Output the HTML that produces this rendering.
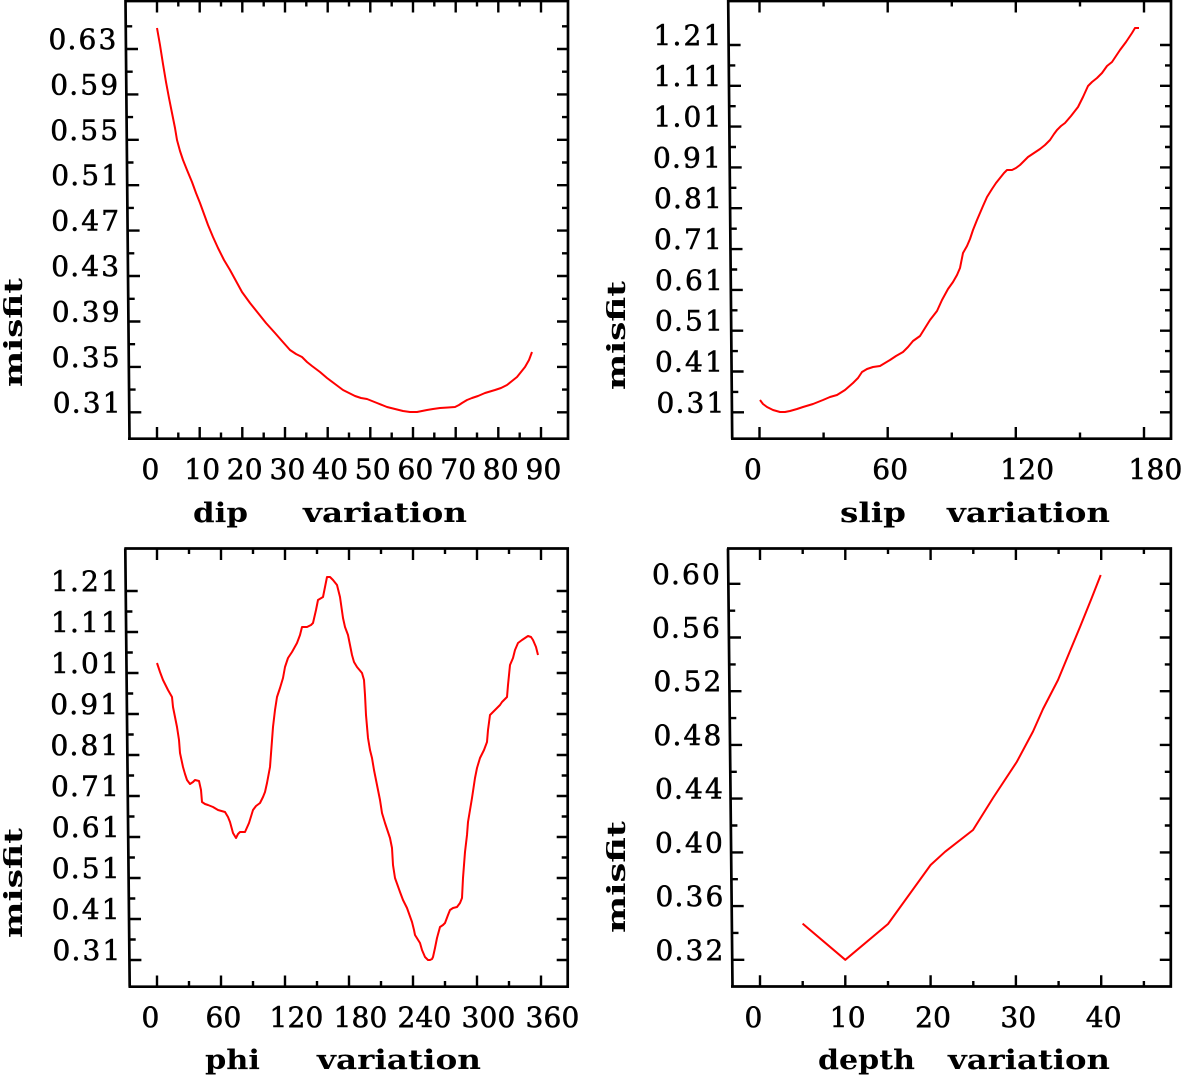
<!DOCTYPE html>
<html>
<head>
<meta charset="utf-8">
<style>
html,body{margin:0;padding:0;background:#fff;}
svg{display:block;}
.tk{font-family:"DejaVu Serif","Liberation Serif",serif;font-size:28px;fill:#000;stroke:#000;stroke-width:0.55px;}
.tt{font-family:"DejaVu Serif","Liberation Serif",serif;font-size:27px;font-weight:bold;fill:#000;}
.ms{font-family:"DejaVu Serif","Liberation Serif",serif;font-size:25px;font-weight:bold;fill:#000;}
</style>
</head>
<body>
<svg width="1183" height="1076" viewBox="0 0 1183 1076" xmlns="http://www.w3.org/2000/svg">
<rect width="1183" height="1076" fill="#fff"/>

<!-- ============ TOP LEFT: dip ============ -->
<path d="M125.5 0 L129.5 438.7 M128 438.7 H568 V1 H124.5" stroke="#000" stroke-width="2.7" fill="none"/>
<path stroke="#000" stroke-width="2.4" fill="none" d="
M157 438V427 M199.7 438V427 M242.3 438V427 M285 438V427 M327.7 438V427 M370.3 438V427 M413 438V427 M455.7 438V427 M498.3 438V427 M541 438V427
M178.3 438V432.5 M221 438V432.5 M263.7 438V432.5 M306.3 438V432.5 M349 438V432.5 M391.7 438V432.5 M434.3 438V432.5 M477 438V432.5 M519.7 438V432.5
M157 1V12.5 M199.7 1V12.5 M242.3 1V12.5 M285 1V12.5 M327.7 1V12.5 M370.3 1V12.5 M413 1V12.5 M455.7 1V12.5 M498.3 1V12.5 M541 1V12.5
M178.3 1V6.5 M221 1V6.5 M263.7 1V6.5 M306.3 1V6.5 M349 1V6.5 M391.7 1V6.5 M434.3 1V6.5 M477 1V6.5 M519.7 1V6.5
M126 49h12 M126.4 94.4h12 M126.8 139.8h12 M127.2 185.2h12 M127.6 230.6h12 M128 276h12 M128.4 321.5h12 M128.9 366.9h12 M129.3 412.3h12
M125.7 26.3h6.5 M126.2 71.7h6.5 M126.6 117.1h6.5 M127 162.5h6.5 M127.4 207.9h6.5 M127.8 253.3h6.5 M128.2 298.8h6.5 M128.6 344.2h6.5 M129.1 389.6h6.5
M568 49h-11 M568 94.4h-11 M568 139.8h-11 M568 185.2h-11 M568 230.6h-11 M568 276h-11 M568 321.5h-11 M568 366.9h-11 M568 412.3h-11
M568 26.3h-6 M568 71.7h-6 M568 117.1h-6 M568 162.5h-6 M568 207.9h-6 M568 253.3h-6 M568 298.8h-6 M568 344.2h-6 M568 389.6h-6"/>
<g class="tk">
<text x="48.5 67.5 78.5 98.5" y="49">0.63</text>
<text x="50.2 69.2 80.2 100.2" y="94.4">0.59</text>
<text x="50.2 69.2 80.2 100.2" y="139.8">0.55</text>
<text x="51.2 70.2 81.2 101.2" y="185.2">0.51</text>
<text x="51.2 70.2 81.2 101.2" y="230.6">0.47</text>
<text x="51.2 70.2 81.2 101.2" y="276">0.43</text>
<text x="51.8 70.8 81.8 101.8" y="321.5">0.39</text>
<text x="51.8 70.8 81.8 101.8" y="366.9">0.35</text>
<text x="52.8 71.8 82.8 102.8" y="412.3">0.31</text>
<text x="141.5" y="479">0</text>
<text x="184.2 202.2" y="479">10</text>
<text x="226.8 244.8" y="479">20</text>
<text x="269.5 287.5" y="479">30</text>
<text x="312.2 330.2" y="479">40</text>
<text x="354.8 372.8" y="479">50</text>
<text x="397.5 415.5" y="479">60</text>
<text x="440.2 458.2" y="479">70</text>
<text x="482.8 500.8" y="479">80</text>
<text x="525.5 543.5" y="479">90</text>
</g>
<text class="tt" x="193" y="522" textLength="55" lengthAdjust="spacingAndGlyphs">dip</text>
<text class="tt" x="303" y="522" textLength="164" lengthAdjust="spacingAndGlyphs">variation</text>
<text class="ms" transform="translate(22,387) rotate(-90)" textLength="109" lengthAdjust="spacingAndGlyphs">misfit</text>
<polyline fill="none" stroke="#ff0000" stroke-width="2" stroke-linejoin="round" points="157,28 160,45 163,64 166,82 169,98 172,113 175,128 177,140 180,151 183,160 187,170 192,182 196,193 200,203 204,214 208,225 213,237 218,248 224,260 230,270 236,281 242,292 250,303 258,313 266,323 275,333 282,341 290,350 296,354 302,357 307,362 312,366 320,372 327,378 335,384 343,390 349,393 355,396 361,398 367,399 377,403 387,407 395,409 403,411 410,412 417,412 422,411 427,410 433,409 440,408 448,407.5 455,407 459,405 462,403 467,400 472,398 478,396 485,393 490,391.5 495,390 501,388 507,385 512,381 517,377 521,372 525,367 529,360 532,352"/>

<!-- ============ TOP RIGHT: slip ============ -->
<path d="M728.2 0 L732.2 438.7 M731 438.7 H1171 V1 H727" stroke="#000" stroke-width="2.7" fill="none"/>
<path stroke="#000" stroke-width="2.4" fill="none" d="
M759.5 438V427 M887.7 438V427 M1015.8 438V427 M1144 438V427
M823.6 438V432.5 M951.8 438V432.5 M1080 438V432.5
M759.5 1V12.5 M887.7 1V12.5 M1015.8 1V12.5 M1144 1V12.5
M823.6 1V6.5 M951.8 1V6.5 M1080 1V6.5
M728.6 45h12 M729 85.8h12 M729.4 126.6h12 M729.7 167.4h12 M730.1 208.2h12 M730.5 249.1h12 M730.8 289.9h12 M731.2 330.7h12 M731.6 371.5h12 M732 412.3h12
M728.8 65.4h6.5 M729.2 106.2h6.5 M729.5 147h6.5 M729.9 187.8h6.5 M730.3 228.7h6.5 M730.7 269.5h6.5 M731 310.3h6.5 M731.4 351.1h6.5 M731.8 391.9h6.5
M1171 45h-11 M1171 85.8h-11 M1171 126.6h-11 M1171 167.4h-11 M1171 208.2h-11 M1171 249.1h-11 M1171 289.9h-11 M1171 330.7h-11 M1171 371.5h-11 M1171 412.3h-11
M1171 65.4h-6 M1171 106.2h-6 M1171 147h-6 M1171 187.8h-6 M1171 228.7h-6 M1171 269.5h-6 M1171 310.3h-6 M1171 351.1h-6 M1171 391.9h-6"/>
<g class="tk">
<text x="653.5 672.5 683.5 703.5" y="45">1.21</text>
<text x="653.5 672.5 683.5 703.5" y="85.8">1.11</text>
<text x="653.5 672.5 683.5 703.5" y="126.6">1.01</text>
<text x="653 672 683 703" y="167.4">0.91</text>
<text x="654 673 684 704" y="208.2">0.81</text>
<text x="654 673 684 704" y="249.1">0.71</text>
<text x="655 674 685 705" y="289.9">0.61</text>
<text x="655 674 685 705" y="330.7">0.51</text>
<text x="655 674 685 705" y="371.5">0.41</text>
<text x="656.5 675.5 686.5 706.5" y="412.3">0.31</text>
<text x="744" y="479">0</text>
<text x="872.2 890.2" y="479">60</text>
<text x="1000.3 1018.3 1036.3" y="479">120</text>
<text x="1128.5 1146.5 1164.5" y="479">180</text>
</g>
<text class="tt" x="840" y="522" textLength="66" lengthAdjust="spacingAndGlyphs">slip</text>
<text class="tt" x="947" y="522" textLength="163" lengthAdjust="spacingAndGlyphs">variation</text>
<text class="ms" transform="translate(625,390) rotate(-90)" textLength="109" lengthAdjust="spacingAndGlyphs">misfit</text>
<polyline fill="none" stroke="#ff0000" stroke-width="2" stroke-linejoin="round" points="760,400 763,404 767,407 773,410 780,412 785,412 790,411 797,409 803,407 813,404 823,400 830,397 837,395 845,390 853,383 858,378 862,372 867,369 873,367 880,366 890,360 896,356 903,352 908,347 913,341 920,336 925,328 930,320 937,311 942,300 948,289 953,282 957,275 960,268 963,253 967,246 970,239 973,230 977,220 980,213 983,206 987,197 992,189 996,183 1000,178 1004,173 1007,170 1012,170 1016,168 1020,165 1024,161 1028,157 1034,153 1040,149 1045,145 1050,140 1054,134 1057,130 1061,126 1065,123 1071,116 1078,107 1083,97 1088,86 1092,82 1097,78 1102,73 1107,66 1112,62 1116,56 1120,50 1126,42 1132,33 1135,28 1139,28"/>

<!-- ============ BOTTOM LEFT: phi ============ -->
<path d="M125.3 548.5 L129.7 986.7 M128.5 986.7 H567.7 V548.5 H124.3" stroke="#000" stroke-width="2.7" fill="none"/>
<path stroke="#000" stroke-width="2.4" fill="none" d="
M157 986.7V975.5 M221 986.7V975.5 M285 986.7V975.5 M349 986.7V975.5 M413 986.7V975.5 M477 986.7V975.5 M541 986.7V975.5
M189 986.7V981 M253 986.7V981 M317 986.7V981 M381 986.7V981 M445 986.7V981 M509 986.7V981
M157 548.5V560 M221 548.5V560 M285 548.5V560 M349 548.5V560 M413 548.5V560 M477 548.5V560 M541 548.5V560
M189 548.5V554 M253 548.5V554 M317 548.5V554 M381 548.5V554 M445 548.5V554 M509 548.5V554
M125.7 591h12 M126.1 632h12 M126.5 673h12 M126.9 714h12 M127.4 755h12 M127.8 796h12 M128.2 837h12 M128.6 878h12 M129 919h12 M129.4 960h12
M125.9 611.5h6.5 M126.3 652.5h6.5 M126.7 693.5h6.5 M127.2 734.5h6.5 M127.6 775.5h6.5 M128 816.5h6.5 M128.4 857.5h6.5 M128.8 898.5h6.5 M129.2 939.5h6.5
M567.7 591h-11 M567.7 632h-11 M567.7 673h-11 M567.7 714h-11 M567.7 755h-11 M567.7 796h-11 M567.7 837h-11 M567.7 878h-11 M567.7 919h-11 M567.7 960h-11
M567.7 611.5h-6 M567.7 652.5h-6 M567.7 693.5h-6 M567.7 734.5h-6 M567.7 775.5h-6 M567.7 816.5h-6 M567.7 857.5h-6 M567.7 898.5h-6 M567.7 939.5h-6"/>
<g class="tk">
<text x="51 70 81 101" y="591">1.21</text>
<text x="51 70 81 101" y="632">1.11</text>
<text x="51 70 81 101" y="673">1.01</text>
<text x="50.2 69.2 80.2 100.2" y="714">0.91</text>
<text x="50.5 69.5 80.5 100.5" y="755">0.81</text>
<text x="51 70 81 101" y="796">0.71</text>
<text x="51.8 70.8 81.8 101.8" y="837">0.61</text>
<text x="51.8 70.8 81.8 101.8" y="878">0.51</text>
<text x="51.8 70.8 81.8 101.8" y="919">0.41</text>
<text x="52.5 71.5 82.5 102.5" y="960">0.31</text>
<text x="141.5" y="1027">0</text>
<text x="205.5 223.5" y="1027">60</text>
<text x="269.5 287.5 305.5" y="1027">120</text>
<text x="333.5 351.5 369.5" y="1027">180</text>
<text x="397.5 415.5 433.5" y="1027">240</text>
<text x="461.5 479.5 497.5" y="1027">300</text>
<text x="525.5 543.5 561.5" y="1027">360</text>
</g>
<text class="tt" x="205" y="1069" textLength="55" lengthAdjust="spacingAndGlyphs">phi</text>
<text class="tt" x="317" y="1069" textLength="164" lengthAdjust="spacingAndGlyphs">variation</text>
<text class="ms" transform="translate(22,938) rotate(-90)" textLength="110" lengthAdjust="spacingAndGlyphs">misfit</text>
<polyline fill="none" stroke="#ff0000" stroke-width="2" stroke-linejoin="round" points="157,663 160,672 163,680 168,690 172,697 173,707 175,717 177,727 179,740 180,753 183,767 185,774 187,780 190,784 193,782 195,780 199,781 201,790 202,802 205,804 208,805 213,807 218,810 225,812 228,817 230,822 233,833 236,838 238,834 240,832 245,832 249,823 253,810 256,806 260,803 263,797 265,792 267,783 270,767 273,727 275,710 277,697 280,688 283,678 285,667 288,658 292,652 297,643 300,635 302,627 307,627 311,625 313,623 316,610 318,600 323,597 327,577 330,577 333,580 337,585 340,597 343,618 345,627 348,635 350,645 352,655 354,662 357,667 362,673 364,680 365,695 366,715 368,738 370,750 372,758 374,770 377,785 380,800 382,813 385,823 388,832 390,838 392,848 393,865 395,878 400,892 403,900 407,908 412,922 414,930 415,935 420,943 422,950 425,957 428,960 430,960 432,959 433,957 435,948 437,938 440,927 443,925 445,923 448,915 450,910 453,908 457,907 460,903 462,898 463,878 464,865 465,852 467,835 468,822 470,810 472,798 475,778 477,768 480,758 484,750 487,742 488,730 490,715 495,710 500,705 502,702 507,697 508,685 510,665 513,658 515,650 518,643 522,640 525,638 528,636 531,637 533,640 536,647 538,655"/>

<!-- ============ BOTTOM RIGHT: depth ============ -->
<path d="M728 548.5 L732.5 986.5 M731 986.5 H1170.8 V548.5 H727" stroke="#000" stroke-width="2.7" fill="none"/>
<path stroke="#000" stroke-width="2.4" fill="none" d="
M760 986.5V975.3 M845.3 986.5V975.3 M930.6 986.5V975.3 M1015.9 986.5V975.3 M1101.2 986.5V975.3
M802.7 986.5V981 M888 986.5V981 M973.3 986.5V981 M1058.6 986.5V981 M1143.9 986.5V981
M760 548.5V560 M845.3 548.5V560 M930.6 548.5V560 M1015.9 548.5V560 M1101.2 548.5V560
M802.7 548.5V554 M888 548.5V554 M973.3 548.5V554 M1058.6 548.5V554 M1143.9 548.5V554
M728.4 583.8h12 M729 637.5h12 M729.5 691.2h12 M730.1 744.9h12 M730.6 798.6h12 M731.2 852.4h12 M731.7 906.1h12 M732.3 959.8h12
M728.7 610.7h6.5 M729.2 664.4h6.5 M729.8 718.1h6.5 M730.3 771.8h6.5 M730.9 825.5h6.5 M731.4 879.2h6.5 M732 932.9h6.5
M1170.8 583.8h-11 M1170.8 637.5h-11 M1170.8 691.2h-11 M1170.8 744.9h-11 M1170.8 798.6h-11 M1170.8 852.4h-11 M1170.8 906.1h-11 M1170.8 959.8h-11
M1170.8 610.7h-6 M1170.8 664.4h-6 M1170.8 718.1h-6 M1170.8 771.8h-6 M1170.8 825.5h-6 M1170.8 879.2h-6 M1170.8 932.9h-6"/>
<g class="tk">
<text x="652 671 682 702" y="583.8">0.60</text>
<text x="652 671 682 702" y="637.5">0.56</text>
<text x="653.5 672.5 683.5 703.5" y="691.2">0.52</text>
<text x="653.5 672.5 683.5 703.5" y="744.9">0.48</text>
<text x="655 674 685 705" y="798.6">0.44</text>
<text x="655 674 685 705" y="852.4">0.40</text>
<text x="655.5 674.5 685.5 705.5" y="906.1">0.36</text>
<text x="655.5 674.5 685.5 705.5" y="959.8">0.32</text>
<text x="744.5" y="1027">0</text>
<text x="829.8 847.8" y="1027">10</text>
<text x="915.1 933.1" y="1027">20</text>
<text x="1000.4 1018.4" y="1027">30</text>
<text x="1085.7 1103.7" y="1027">40</text>
</g>
<text class="tt" x="818" y="1069" textLength="97" lengthAdjust="spacingAndGlyphs">depth</text>
<text class="tt" x="948" y="1069" textLength="162" lengthAdjust="spacingAndGlyphs">variation</text>
<text class="ms" transform="translate(625,933) rotate(-90)" textLength="112" lengthAdjust="spacingAndGlyphs">misfit</text>
<polyline fill="none" stroke="#ff0000" stroke-width="2" stroke-linejoin="round" points="802.6,923.6 845.3,959.8 888,924 930.6,865 945,851.8 973,830 993,798 1016.7,762 1033,731.5 1043,709 1058,680 1070,651 1080,627 1091.7,598 1100.7,575"/>
</svg>
</body>
</html>
